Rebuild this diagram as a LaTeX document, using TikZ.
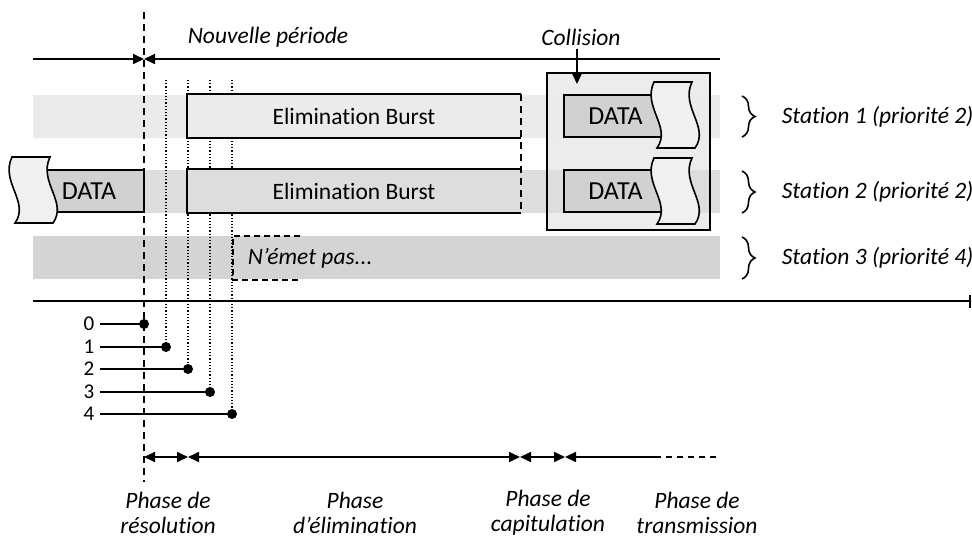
\documentclass[tikz,border=0pt]{standalone}
\usepackage{fontspec}
\setmainfont{Carlito}[Ligatures=NoCommon]
\usetikzlibrary{arrows.meta,decorations.pathreplacing}

\definecolor{rowone}{gray}{0.92}
\definecolor{rowtwo}{gray}{0.865}
\definecolor{rowthree}{gray}{0.83}
\definecolor{datafill}{gray}{0.82}
\definecolor{collfill}{gray}{0.925}
\definecolor{tornfill}{gray}{0.94}

\tikzset{
  txt/.style={font=\fontsize{23.5}{27}\selectfont},
  itxt/.style={font=\fontsize{23.5}{27}\selectfont\itshape},
  phtxt/.style={font=\fontsize{23.5}{25}\selectfont\itshape, align=center, inner sep=0pt},
  numtxt/.style={font=\fontsize{21}{24}\selectfont},
  burst/.style={minimum width=332pt, minimum height=42pt, inner sep=0pt, txt},
  databox/.style={draw, fill=datafill, minimum height=42pt, inner sep=0pt,
                  font=\fontsize{26}{28}\selectfont},
  dotline/.style={dotted, line width=1.2pt},
  bigdash/.style={line width=1.7pt, dash pattern=on 7pt off 5pt},
  % piece of torn tape: wavy left and right edges
  torn/.pic={
    \draw[fill=tornfill, line width=1.6pt]
      (0,0) -- (38,0)
      .. controls (26,25) and (56,45) .. (41,66)
      -- (3,66)
      .. controls (18,45) and (-12,25) .. (0,0) -- cycle;
  }
}

\begin{document}
\begin{tikzpicture}[x=1pt, y=-1pt, line width=1.7pt, >={Triangle[length=11pt,width=10pt]}]
\useasboundingbox (0,0) rectangle (972,539);

% collision frame background
\fill[collfill] (547,73) rectangle (710,230);

% station bands
\fill[rowone]   (33,95)  rectangle (720,138);
\fill[rowtwo]   (33,170) rectangle (720,213);
\fill[rowthree] (33,236) rectangle (720,279);

% collision frame outline
\draw (547,73) rectangle (710,230);

% priority slot markers
\coordinate (s1) at (166,80);
\coordinate (s2) at (188,80);
\coordinate (s3) at (210,80);
\coordinate (s4) at (232,80);
\coordinate (p0) at (144,324);
\coordinate (p1) at (166,347);
\coordinate (p2) at (188,369);
\coordinate (p3) at (210,392);
\coordinate (p4) at (232,414);
\draw[dotline] (s1) -- (p1);
\draw[dotline] (s2) -- (p2);
\draw[dotline] (s3) -- (p3);
\draw[dotline] (s4) -- (p4);

% elimination bursts
\node[burst, fill=rowone] (eb1) at (354,116) {Elimination Burst};
\node[burst, fill=rowtwo] (eb2) at (354,191) {Elimination Burst};
\draw (eb1.north east) -- (eb1.north west) -- (eb1.south west) -- (eb1.south east);
\draw (eb2.north east) -- (eb2.north west) -- (eb2.south west) -- (eb2.south east);
\draw[bigdash] (eb1.north east) -- (eb2.south east);

% previous transmission of station 2
\node[databox, minimum width=100pt] (d0) at (94,191) {\hspace*{-10pt}DATA};
\pic at (12,157) {torn};

% colliding data frames
\node[databox, minimum width=104pt] (d1) at (616,116) {\hspace*{-1pt}DATA};
\node[databox, minimum width=104pt] (d2) at (616,191) {\hspace*{-1pt}DATA};
\pic at (654,82) {torn};
\pic at (654,158) {torn};

% station 3 stays silent
\coordinate (n1) at (300,236);
\coordinate (n2) at (233,236);
\coordinate (n3) at (233,280);
\coordinate (n4) at (300,280);
\draw[line width=1.7pt, dash pattern=on 6pt off 4pt] (n1) -- (n2) -- (n3) -- (n4);
\node[itxt, anchor=west, inner sep=0pt] (silent) at (247,258) {N’émet pas...};

% period boundary
\coordinate (vtop) at (144,12);
\coordinate (vbot) at (144,482);
\draw[bigdash] (vtop) -- (vbot);

% new period axis
\coordinate (a0) at (33,59);
\coordinate (a1) at (144,59);
\coordinate (a2) at (720,59);
\draw[->] (a0) -- (a1);
\draw[<-] (a1) -- (a2);
\node[itxt] (np) at (268,37) {Nouvelle période};

% collision marker
\node[itxt] (coll) at (581,37) {Collision};
\coordinate (cto) at (577,84);
\draw[->] (coll.south -| cto) -- (cto);

% time axis
\coordinate (t0) at (33,301);
\coordinate (t1) at (971,301);
\draw[-{Bar[width=13pt]}] (t0) -- (t1);

% priority levels
\foreach \k/\p in {0/p0,1/p1,2/p2,3/p3,4/p4}{
  \node[numtxt, anchor=east, inner sep=0pt] (lab\k) at (95,0 |- \p) {\k};
  \draw (lab\k.east) ++(5,0) coordinate (st\k) -- (\p);
  \fill (\p) circle (5);
}

% station braces
\foreach \i/\top/\bot/\lab in {1/96/137/Station 1 (priorité 2),2/171/213/Station 2 (priorité 2),3/237/279/Station 3 (priorité 4)}{
  \coordinate (bt\i) at (742,\top);
  \coordinate (bb\i) at (742,\bot);
  \draw[line width=1.6pt, decorate, decoration={brace, amplitude=13pt}] (bt\i) -- (bb\i);
  \node[itxt, anchor=west, inner sep=0pt] (sn\i) at (781,{(\top+\bot)/2}) {\lab};
}

% phases
\coordinate (f0) at (144,457);
\coordinate (f1) at (188,457);
\coordinate (f2) at (520,457);
\coordinate (f3) at (565,457);
\coordinate (f4) at (655,457);
\coordinate (f5) at (720,457);
\draw[<->] (f0) -- (f1);
\draw[<->] (f1) -- (f2);
\draw[<->] (f2) -- (f3);
\draw[<-] (f3) -- (f4);
\draw[line width=1.7pt, dash pattern=on 6pt off 5pt] (f4) -- (f5);

\node[phtxt] (ph1) at (168,513) {Phase de\\résolution};
\node[phtxt] (ph2) at (355,513) {Phase\\d’élimination};
\node[phtxt] (ph3) at (548,513) {Phase de\\capitulation};
\node[phtxt] (ph4) at (697,513) {Phase de\\transmission};
\end{tikzpicture}
\end{document}
